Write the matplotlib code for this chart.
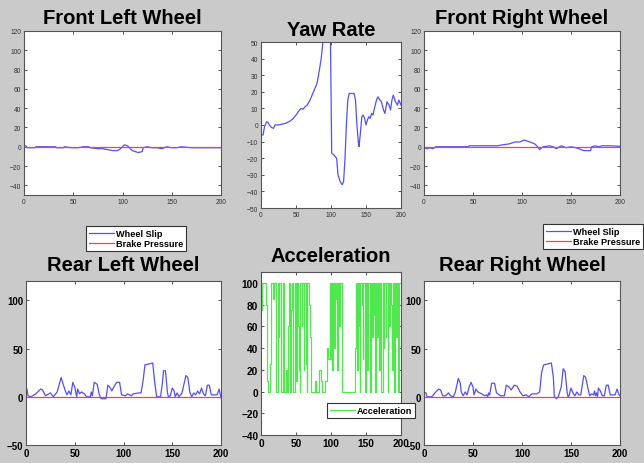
import matplotlib
matplotlib.use("Agg")
import matplotlib.pyplot as plt
from matplotlib.lines import Line2D

plt.rcParams['font.family'] = ['Liberation Sans', 'DejaVu Sans']

# ---------------- data ----------------
fl_x = [0, 2, 3, 11, 12, 32, 33, 40, 41, 48, 49, 55, 60, 66, 67, 75, 80, 85, 90, 95, 98, 102, 105,
        108, 110, 113, 116, 120, 121, 125, 130, 135, 140, 145, 150, 155, 160, 170, 180, 190, 200]
fl_slip = [1, 1, -1, -1, 0, 0, -1, -1, 0, -1, -1, -1, 0, 0, -1, -2, -2, -3, -4, -4, -2, 2, 1,
           -2, -4, -5, -6, -5, -1, 0, -1, -1, -2, 0, -1, -1, 0, -1, -1, -1, -1]

fr_x = [0, 3, 6, 9, 12, 20, 45, 46, 60, 75, 80, 87, 93, 98, 102, 108, 113, 116, 118, 120, 122,
        128, 132, 135, 140, 145, 150, 155, 158, 163, 170, 171, 175, 178, 182, 186, 190, 200]
fr_slip = [-1, -2, -1, -2, 0, 0, 0, 1, 1, 1, 2, 3, 5, 5, 7, 5, 3, 0, -3, -1, 0,
           1, 0, -2, 1, -1, 0, -1, -2, -4, -4, 0, 1, 0, 1, 1, 1, 0.5]

yaw_x = [0, 3, 5, 8, 10, 12, 15, 18, 20, 25, 30, 35, 40, 45, 50, 55, 57, 60, 63, 66, 70, 75, 80,
         83, 86, 88, 90, 95, 99, 101, 104, 108, 110, 113, 116, 118, 120, 122, 124, 126, 133, 135,
         137, 139, 140, 142, 144, 146, 148, 150, 152, 154, 156, 158, 160, 162, 165, 167, 170, 172,
         175, 177, 180, 183, 185, 187, 189, 192, 195, 197, 200]
yaw_rate = [-6, -6, -1, 2, 1.5, 0, -1.5, -2, 0, 0, 0.5, 1, 2, 3.5, 6, 9, 10, 9.5, 11, 12, 15, 20, 25,
            32, 40, 48, 58, 75, 60, -17, -18, -20, -30, -34, -36, -34, -20, 0, 15, 19, 19, 15,
            0, -10, -13, -5, 5, 6, 4, 0, 3, 5, 4, 7, 6, 10, 15, 17, 15, 14,
            9, 7, 14, 12, 9, 15, 18, 14, 12, 15, 12]

rl_x = [0, 1, 2, 5, 10, 15, 17, 20, 25, 28, 32, 36, 40, 42, 44, 46, 48, 50, 52, 53, 55, 57, 60,
        62, 66, 67, 68, 70, 73, 75, 77, 82, 84, 86, 88, 90, 93, 96, 98, 102, 104, 108, 110, 116,
        118, 120, 122, 126, 130, 132, 134, 138, 140, 141, 143, 145, 146, 148, 150, 152, 153, 155,
        157, 160, 164, 166, 168, 170, 172, 174, 176, 178, 180, 182, 184, 186, 188, 190, 196, 198, 200]
rl_slip = [8, 8, 1, 0, 3, 8, 7, 1, 4, 0, 5, 20, 7, 2, 6, 2, 15, 10, 0, 8, 3, 5, 3,
           0, 0, 5, 1, 15, 13, 3, -2, -2, 12, 10, 6, 10, 15, 15, 2, 1, 3, 1, 3, 4,
           4, 16, 33, 34, 35, 15, 0, 0, 15, 27, 27, 5, 0, 1, 9, 6, 0, 4,
           0, 4, 22, 20, 5, 0, 4, 2, 6, 3, 9, 3, 1, 12, 12, 2, 2, 8, -1]

rr_x = [0, 2, 3, 8, 12, 15, 17, 19, 22, 25, 27, 30, 32, 35, 37, 38, 40, 42, 44, 46, 48, 50, 51,
        53, 55, 57, 59, 62, 64, 65, 66, 67, 69, 72, 74, 78, 82, 84, 87, 89, 92, 95, 98, 101, 104,
        107, 110, 115, 118, 120, 122, 126, 130, 132, 133, 135, 137, 140, 142, 144, 146, 147, 148,
        150, 152, 154, 156, 158, 160, 163, 165, 167, 169, 171, 173, 174, 175, 176, 177, 178, 180,
        182, 184, 186, 188, 190, 195, 197, 199, 200]
rr_slip = [5, 4, 0, 0, 5, 8, 7, 1, 1, 4, 1, 0, 5, 19, 14, 5, 1, 5, 2, 10, 15, 10, 2,
           8, 5, 4, 3, 1, 2, 0, 4, 2, 14, 14, 4, 1, 1, 12, 10, 7, 12, 11, 5, 1, 2,
           0, 3, 3, 5, 25, 33, 34, 35, 20, 0, -2, 0, 10, 29, 26, 5, 0, 1,
           9, 4, 1, 5, 2, 2, 22, 20, 10, 1, 3, 2, 6, 1, 4, 0, 9, 6,
           1, 1, 12, 12, 2, 2, 8, 2, 1]

brake_x = [0, 200]
brake_pressure = [0, 0]

acc_x = [0, 1, 2, 7, 9, 10, 13, 14, 17, 18, 21, 22, 24, 25, 26, 28, 29, 31, 32, 33, 36, 37, 39, 40,
         41, 42, 43, 44, 46, 48, 49, 50, 51, 53, 54, 55, 56, 58, 59, 61, 62, 64, 65, 66, 69, 70, 71,
         77, 78, 83, 86, 87, 92, 94, 96, 98, 99, 100, 101, 102, 103, 104, 105, 106, 107, 108, 109,
         110, 112, 113, 116, 134, 135, 137, 138, 140, 141, 142, 144, 145, 146, 148, 149, 150, 152,
         153, 155, 156, 157, 159, 160, 161, 162, 163, 164, 166, 167, 169, 170, 171, 172, 174, 175,
         176, 178, 179, 181, 182, 183, 184, 186, 187, 188, 190, 192, 193, 194, 196, 197, 200]
acceleration = [100, 75, 100, 80, 10, 0, 25, 100, 85, 100, 20, 0, 100, 50, 100, 85, 0, 20, 100, 0,
                20, 0, 60, 100, 25, 0, 75, 100, 0, 50, 100, 10, 100, 60, 20, 0, 100, 60, 100, 20,
                100, 25, 0, 100, 80, 50, 0, 10, 0, 20, 10, 0, 10, 40, 30, 100, 30, 100, 60, 20, 100,
                40, 100, 85, 100, 60, 20, 100, 60, 100, 0, 40, 100, 20, 100, 60, 0, 100, 80, 30,
                100, 60, 0, 100, 20, 100, 40, 0, 100, 50, 100, 70, 100, 0, 100, 50, 100, 20, 100,
                80, 0, 100, 40, 100, 50, 100, 0, 100, 60, 100, 80, 20, 100, 0, 100, 50, 100, 0,
                100, 100]

# ---------------- style ----------------
BG = '#cacaca'
BLUE = '#5050ff'
RED = '#ff4040'
GREEN = '#4fe84f'
W, H = 644, 464

fig = plt.figure(figsize=(6.44, 4.64), dpi=100, facecolor=BG)


def add_ax(left, top, right, bottom):
    return fig.add_axes([left / W, 1 - bottom / H, (right - left) / W, (bottom - top) / H])


def style(ax, fs, bold, color):
    ax.set_facecolor('white')
    ax.tick_params(direction='in', length=2.5, width=0.6, top=True, right=True,
                   labelsize=fs, colors='#333333', labelcolor=color, pad=2)
    for lab in ax.get_xticklabels() + ax.get_yticklabels():
        lab.set_fontweight('bold' if bold else 'normal')
    for s in ax.spines.values():
        s.set_color('#555555')
        s.set_linewidth(0.8)


def title(ax, text, pad):
    ax.set_title(text, fontsize=14.5, fontweight='bold', pad=pad, color='black')


# Front Left
ax1 = add_ax(24, 32, 221, 196)
ax1.plot(fl_x, fl_slip, color=BLUE, lw=0.9)
ax1.plot(brake_x, brake_pressure, color=RED, lw=0.9)
ax1.set_xlim(0, 200); ax1.set_ylim(-50, 120)
ax1.set_xticks([0, 50, 100, 150, 200]); ax1.set_yticks(range(-40, 121, 20))
style(ax1, 4.8, False, '#333333')
title(ax1, 'Front Left Wheel', 6)

# Yaw Rate
ax2 = add_ax(261, 43, 401, 209)
ax2.plot(yaw_x, yaw_rate, color=BLUE, lw=0.9)
ax2.set_xlim(0, 200); ax2.set_ylim(-50, 50)
ax2.set_xticks([0, 50, 100, 150, 200]); ax2.set_yticks(range(-50, 51, 10))
style(ax2, 4.8, False, '#333333')
title(ax2, 'Yaw Rate', 5)

# Front Right
ax3 = add_ax(424, 32, 620, 196)
ax3.plot(fr_x, fr_slip, color=BLUE, lw=0.9)
ax3.plot(brake_x, brake_pressure, color=RED, lw=0.9)
ax3.set_xlim(0, 200); ax3.set_ylim(-50, 120)
ax3.set_xticks([0, 50, 100, 150, 200]); ax3.set_yticks(range(-40, 121, 20))
style(ax3, 4.8, False, '#333333')
title(ax3, 'Front Right Wheel', 6)

# Rear Left
ax4 = add_ax(26, 282, 221, 446)
ax4.plot(rl_x, rl_slip, color=BLUE, lw=0.9)
ax4.plot(brake_x, brake_pressure, color=RED, lw=0.9)
ax4.set_xlim(0, 200); ax4.set_ylim(-50, 120)
ax4.set_xticks([0, 50, 100, 150, 200]); ax4.set_yticks([-50, 0, 50, 100])
style(ax4, 7, True, 'black')
title(ax4, 'Rear Left Wheel', 8)

# Acceleration
ax5 = add_ax(261, 273, 401, 436)
ax5.step(acc_x, acceleration, where='post', color=GREEN, lw=0.9)
ax5.set_xlim(0, 200); ax5.set_ylim(-40, 110)
ax5.set_xticks([0, 50, 100, 150, 200]); ax5.set_yticks(range(-40, 101, 20))
style(ax5, 7.3, True, 'black')
title(ax5, 'Acceleration', 8)

# Rear Right
ax6 = add_ax(424, 282, 620, 446)
ax6.plot(rr_x, rr_slip, color=BLUE, lw=0.9)
ax6.plot(brake_x, brake_pressure, color=RED, lw=0.9)
ax6.set_xlim(0, 200); ax6.set_ylim(-50, 120)
ax6.set_xticks([0, 50, 100, 150, 200]); ax6.set_yticks([-50, 0, 50, 100])
style(ax6, 7, True, 'black')
title(ax6, 'Rear Right Wheel', 8)

# Legends
wheel_handles = [Line2D([], [], color=BLUE, lw=0.9), Line2D([], [], color=RED, lw=0.9)]
wheel_labels = ['Wheel Slip', 'Brake Pressure']


def fig_legend(handles, labels, x, y):
    leg = fig.legend(handles, labels, loc='upper left', bbox_to_anchor=(x / W, 1 - y / H),
                     bbox_transform=fig.transFigure, prop={'size': 6.6, 'weight': 'bold'},
                     frameon=True, fancybox=False, borderaxespad=0, handlelength=2.7,
                     handletextpad=0.3, labelspacing=0.15, borderpad=0.3)
    fr = leg.get_frame()
    fr.set_edgecolor('#333333'); fr.set_linewidth(0.8); fr.set_facecolor('white'); fr.set_alpha(1)
    return leg


fig_legend(wheel_handles, wheel_labels, 86, 227)
fig_legend(wheel_handles, wheel_labels, 543, 225)
fig_legend([Line2D([], [], color=GREEN, lw=0.9)], ['Acceleration'], 327, 404)

fig.savefig('out.png', dpi=100, facecolor=BG)
